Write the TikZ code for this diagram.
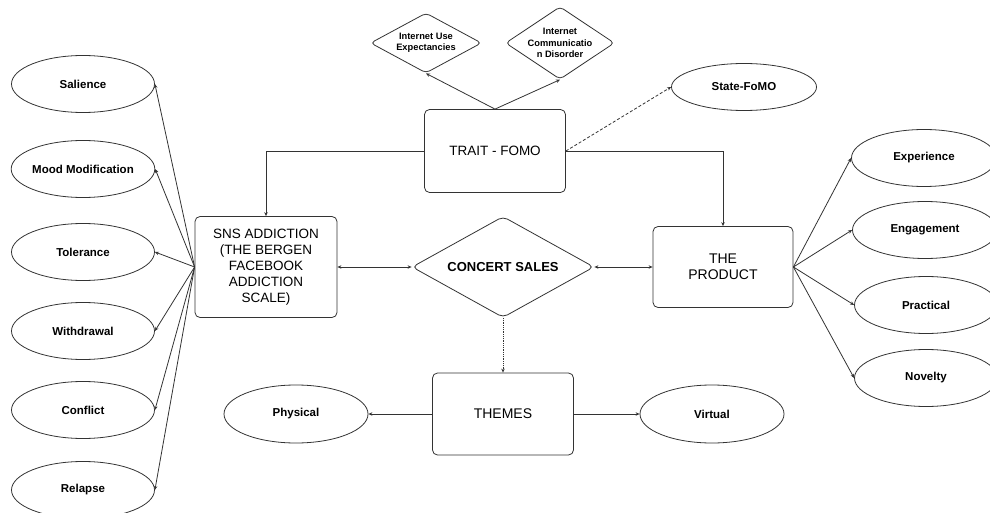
\documentclass[tikz,border=0pt]{standalone}
\usepackage{fontspec}
\setmainfont{Liberation Sans}
\usepackage{tikz}
\usetikzlibrary{positioning,arrows.meta,shapes.geometric}

\begin{document}
\begin{tikzpicture}[x=1pt, y=-1pt, line width=0.8pt,
  box/.style={draw=black!80, rounded corners=5pt, align=center, inner sep=2pt, font=\fontsize{13.5}{16}\selectfont},
  item/.style={draw=black!80, ellipse, inner sep=0pt, minimum width=143pt, minimum height=57pt, font=\fontsize{11.5}{13}\selectfont\bfseries},
  smalldia/.style={draw=black!80, diamond, rounded corners=4pt, inner sep=0pt, align=center, font=\fontsize{9.3}{11.5}\selectfont\bfseries},
  conn/.style={draw=black!80, -{Stealth[length=4pt,width=3.5pt]}},
  twoway/.style={draw=black!80, {Stealth[length=4pt,width=3.5pt]}-{Stealth[length=4pt,width=3.5pt]}}]
\useasboundingbox (0,0) rectangle (990,513);
% centre
\node[box, minimum width=141pt, minimum height=83pt] (trait) at (495,151) {TRAIT - FOMO};
\node[box, minimum width=142pt, minimum height=101pt] (sns) at (266,267) {SNS ADDICTION\\(THE BERGEN\\FACEBOOK\\ADDICTION\\SCALE)};
\node[box, minimum width=140pt, minimum height=81pt, font=\fontsize{14}{16}\selectfont] (product) at (723,267) {THE\\PRODUCT};
\node[box, minimum width=141pt, minimum height=82pt, font=\fontsize{14}{16}\selectfont] (themes) at (503,414) {THEMES};
\node[draw=black!80, diamond, rounded corners=5pt, shape aspect=1.8, inner sep=2pt, minimum width=182pt, minimum height=101pt, font=\fontsize{13}{16}\selectfont\bfseries] (sales) at (503,267) {CONCERT SALES};
% top
\node[smalldia, shape aspect=1.85, minimum width=111pt, minimum height=60pt] (expect) at (426,43) {Internet Use\\Expectancies};
\node[smalldia, shape aspect=1.5, minimum width=104pt, minimum height=66pt] (disorder) at (560,43) {Internet\\Communicatio\\n Disorder};
\node[item, minimum width=145pt, minimum height=47pt] (state) at (744,87) {State-FoMO};
% left
\node[item] (salience) at (83,84) {Salience};
\node[item] (mood) at (83,169) {Mood Modification};
\node[item] (tolerance) at (83,252) {Tolerance};
\node[item] (withdrawal) at (83,331) {Withdrawal};
\node[item] (conflict) at (83,410) {Conflict};
\node[item] (relapse) at (83,490) {Relapse};
% right
\node[item, minimum width=145pt] (experience) at (924,158) {Experience};
\node[item, minimum width=145pt] (engagement) at (925,230) {Engagement};
\node[item] (practical) at (926,305) {Practical};
\node[item] (novelty) at (926,378) {Novelty};
% bottom
\node[item, minimum width=144pt, minimum height=58pt] (physical) at (296,414) {Physical};
\node[item, minimum width=144pt, minimum height=58pt] (virtual) at (712,414) {Virtual};

\draw[conn] (trait.west) -| (sns.north);
\draw[conn] (trait.east) -| (product.north);
\draw[conn] (trait.north) -- (expect.south);
\draw[conn] (trait.north) -- (disorder.south);
\draw[conn, densely dashed] (trait.east) -- (state.west);
\foreach \n in {salience,mood,tolerance,withdrawal,conflict,relapse}
  \draw[conn] (sns.west) -- (\n.east);
\foreach \n in {experience,engagement,practical,novelty}
  \draw[conn] (product.east) -- (\n.west);
\draw[twoway] (sns.east) -- (sales.west);
\draw[twoway] (sales.east) -- (product.west);
\draw[conn, densely dotted] (sales.south) -- (themes.north);
\draw[conn] (themes.west) -- (physical.east);
\draw[conn] (themes.east) -- (virtual.west);
\end{tikzpicture}
\end{document}
